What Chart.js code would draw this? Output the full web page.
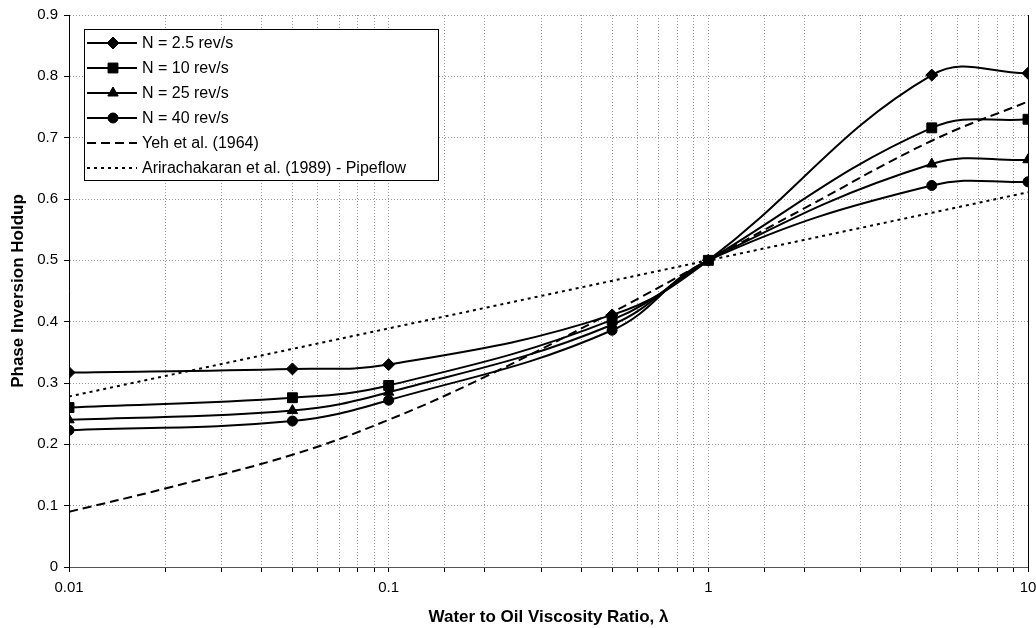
<!DOCTYPE html>
<html>
<head>
<meta charset="utf-8">
<script src="https://cdn.jsdelivr.net/npm/chart.js@4/dist/chart.umd.min.js"></script>
<style>
  html, body { margin: 0; padding: 0; background: #fff; }
  #wrap { width: 1036px; height: 628px; }
</style>
</head>
<body>
<div id="wrap"><canvas id="c" width="1036" height="628"></canvas></div>
<script>
// Measured phase inversion holdup against water/oil viscosity ratio
const viscosityRatio = [0.01, 0.05, 0.1, 0.5, 1, 5, 10];
const holdupN2_5 = [0.317, 0.323, 0.330, 0.411, 0.500, 0.802, 0.805];
const holdupN10  = [0.260, 0.276, 0.296, 0.403, 0.500, 0.716, 0.730];
const holdupN25  = [0.240, 0.255, 0.285, 0.395, 0.500, 0.657, 0.664];
const holdupN40  = [0.223, 0.238, 0.272, 0.386, 0.500, 0.622, 0.628];

// Correlations
const yehRatio  = [0.01, 0.02, 0.05, 0.1, 0.2, 0.5, 1, 2, 5, 10];
const yehHoldup = [0.090, 0.128, 0.183, 0.240, 0.310, 0.415, 0.500, 0.585, 0.695, 0.759];
const arirRatio  = [0.01, 0.1, 1, 10];
const arirHoldup = [0.278, 0.389, 0.500, 0.611];

const seriesLabels = ['N = 2.5 rev/s', 'N = 10 rev/s', 'N = 25 rev/s', 'N = 40 rev/s',
                      'Yeh et al. (1964)', 'Arirachakaran et al. (1989) - Pipeflow'];
const xTickLabels = ['0.01', '0.1', '1', '10'];
const xTitle = 'Water to Oil Viscosity Ratio, \u03bb';
const yTitle = 'Phase Inversion Holdup';

const FONT = '"Liberation Sans", Arial, sans-serif';
Chart.defaults.font.family = FONT;
Chart.defaults.color = '#000';

const pts = (xs, ys) => xs.map((x, i) => ({ x, y: ys[i] }));

function measured(label, ys, style, radius) {
  return {
    label, data: pts(viscosityRatio, ys),
    borderColor: '#000', backgroundColor: '#000', borderWidth: 2,
    pointStyle: style, pointRadius: radius, pointHoverRadius: radius,
    pointBackgroundColor: '#000', pointBorderColor: '#000', pointBorderWidth: 1,
    tension: 0.4, fill: false
  };
}

// Boxed legend with line sample + marker per series
const boxLegend = {
  id: 'boxLegend',
  afterDraw(chart) {
    const ctx = chart.ctx, a = chart.chartArea;
    const x0 = a.left + 15, y0 = a.top + 14, rowH = 25, w = 354, h = 151;
    ctx.save();
    ctx.fillStyle = '#fff';
    ctx.fillRect(x0, y0, w, h);
    ctx.strokeStyle = '#000';
    ctx.lineWidth = 1;
    ctx.strokeRect(x0 + 0.5, y0 + 0.5, w, h);
    chart.data.datasets.forEach((ds, i) => {
      const cy = y0 + 14 + i * rowH;
      ctx.setLineDash(ds.borderDash || []);
      ctx.strokeStyle = '#000';
      ctx.lineWidth = ds.borderWidth;
      ctx.beginPath();
      ctx.moveTo(x0 + 3, cy);
      ctx.lineTo(x0 + 53, cy);
      ctx.stroke();
      ctx.setLineDash([]);
      if (ds.pointRadius > 0) {
        ctx.fillStyle = '#000';
        ctx.lineWidth = 1;
        Chart.helpers.drawPoint(ctx, { pointStyle: ds.pointStyle, radius: ds.pointRadius, rotation: 0, borderWidth: 1 }, x0 + 29, cy);
      }
      ctx.fillStyle = '#000';
      ctx.font = '16px ' + FONT;
      ctx.textAlign = 'left';
      ctx.textBaseline = 'middle';
      ctx.fillText(ds.label, x0 + 58, cy + 1);
    });
    ctx.restore();
  }
};

// Solid right edge of the plot area
const rightEdge = {
  id: 'rightEdge',
  afterDatasetsDraw(chart) {
    const ctx = chart.ctx, a = chart.chartArea;
    ctx.save();
    ctx.strokeStyle = '#000';
    ctx.lineWidth = 1;
    ctx.beginPath();
    ctx.moveTo(Math.round(a.right) + 0.5, a.top);
    ctx.lineTo(Math.round(a.right) + 0.5, a.bottom + 4);
    ctx.stroke();
    ctx.restore();
  }
};

new Chart(document.getElementById('c'), {
  type: 'line',
  data: {
    datasets: [
      measured(seriesLabels[0], holdupN2_5, 'rectRot', 6),
      measured(seriesLabels[1], holdupN10, 'rect', 7),
      measured(seriesLabels[2], holdupN25, 'triangle', 6),
      measured(seriesLabels[3], holdupN40, 'circle', 5),
      {
        label: seriesLabels[4], data: pts(yehRatio, yehHoldup),
        borderColor: '#000', borderWidth: 2, borderDash: [9, 5],
        pointRadius: 0, pointHoverRadius: 0, tension: 0.4, fill: false
      },
      {
        label: seriesLabels[5], data: pts(arirRatio, arirHoldup),
        borderColor: '#000', borderWidth: 2, borderDash: [3, 4],
        pointRadius: 0, pointHoverRadius: 0, tension: 0, fill: false
      }
    ]
  },
  options: {
    responsive: false,
    animation: false,
    devicePixelRatio: 1,
    layout: { padding: { top: 15, right: 8, left: 0, bottom: 0 } },
    plugins: { legend: { display: false }, tooltip: { enabled: false } },
    scales: {
      x: {
        type: 'logarithmic',
        min: 0.01, max: 10,
        afterFit: s => { s.height = 61; s.paddingLeft = 0; s.paddingRight = 0; },
        grid: { color: '#9a9a9a', lineWidth: 1, tickLength: 5, tickColor: '#000', tickBorderDash: [] },
        border: { color: '#555', width: 1, dash: [1, 2] },
        ticks: {
          autoSkip: false, maxRotation: 0, padding: 7,
          font: { size: 15 },
          callback: (v) => {
            const e = Math.log10(v);
            if (Math.abs(e - Math.round(e)) > 1e-9) return '';
            return xTickLabels[Math.round(e) + 2];
          }
        },
        title: { display: true, text: xTitle, font: { size: 17, weight: 'bold' }, padding: { top: 2, bottom: 0 } }
      },
      y: {
        min: 0, max: 0.9,
        afterFit: s => { s.width = 69; },
        grid: { color: '#9a9a9a', lineWidth: 1, tickLength: 5, tickColor: '#000', tickBorderDash: [] },
        border: { color: '#000', width: 1, dash: [1, 2] },
        ticks: {
          stepSize: 0.1, padding: 6,
          font: { size: 15 },
          callback: (v) => (Math.abs(v) < 1e-9 ? '0' : v.toFixed(1))
        },
        title: { display: true, text: yTitle, font: { size: 17, weight: 'bold' }, padding: { top: 8, bottom: 4 } }
      }
    }
  },
  plugins: [rightEdge, boxLegend]
});
</script>
</body>
</html>
